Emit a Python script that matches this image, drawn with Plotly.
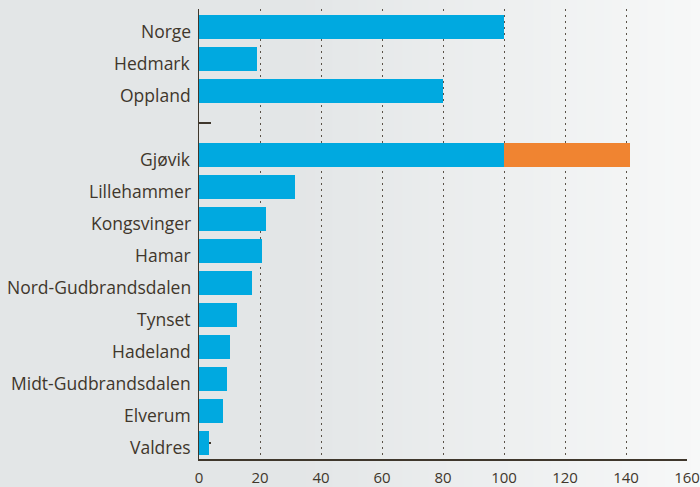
import plotly.graph_objects as go

categories = ["Norge", "Hedmark", "Oppland", " ", "Gjøvik", "Lillehammer", "Kongsvinger",
              "Hamar", "Nord-Gudbrandsdalen", "Tynset", "Hadeland", "Midt-Gudbrandsdalen",
              "Elverum", "Valdres"]
base_values = [100, 19, 80, None, 100, 31.6, 22, 20.8, 17.5, 12.4, 10.3, 9.3, 8, 3.4]
extra_values = [None, None, None, None, 41.3, None, None, None, None, None, None, None, None, None]
x_ticks = [0, 20, 40, 60, 80, 100, 120, 140, 160]

BLUE = "#00a9e0"
ORANGE = "#f08431"
TEXT = "#3f372c"
AXIS = "#3f372c"

fig = go.Figure()
fig.add_trace(go.Bar(y=categories, x=base_values, orientation="h",
                     marker=dict(color=BLUE, line=dict(width=0)), showlegend=False,
                     hoverinfo="skip"))
fig.add_trace(go.Bar(y=categories, x=extra_values, orientation="h",
                     marker=dict(color=ORANGE, line=dict(width=0)), showlegend=False,
                     hoverinfo="skip"))

W, H = 700, 487
ml, mr, mt, mb = 199, 13, 9, 28
pw = W - ml - mr

# background gradient strips (full figure, paper coords)
shapes = []
n = 80
c0 = (0xe3, 0xe6, 0xe7)
c1 = (0xf7, 0xf8, 0xf8)
for i in range(n):
    px0 = W * i / n
    px1 = W * (i + 1) / n + 0.8
    mid = (px0 + px1) / 2
    t = min(1.0, max(0.0, (mid - 300) / (700 - 300)))
    col = tuple(round(a + (b - a) * t) for a, b in zip(c0, c1))
    shapes.append(dict(type="rect", xref="paper", yref="paper",
                       x0=(px0 - ml) / pw, x1=(px1 - ml) / pw,
                       y0=-mb / (H - mt - mb), y1=1 + mt / (H - mt - mb),
                       fillcolor="rgb(%d,%d,%d)" % col, line=dict(width=0), layer="below"))

# category labels as annotations (slightly lowered, like the reference)
annotations = [dict(x=0, y=c, xref="x", yref="y", text=c, showarrow=False,
                    xanchor="right", yanchor="middle", xshift=-6, yshift=-4,
                    font=dict(size=17.5, color=TEXT))
               for c in categories if c.strip()]

fig.update_layout(
    width=W, height=H,
    margin=dict(l=ml, r=mr, t=mt, b=mb, autoexpand=False),
    barmode="stack",
    bargap=0.28,
    paper_bgcolor="rgb(227,230,231)",
    plot_bgcolor="rgba(0,0,0,0)",
    font=dict(family="Open Sans, sans-serif", size=15, color=TEXT),
    shapes=shapes,
    annotations=annotations,
    hovermode=False,
    xaxis=dict(range=[0, 160], tickvals=x_ticks, showgrid=True, gridcolor="#5a5248",
               griddash="2px,4px", gridwidth=1, zeroline=False, showline=True,
               linecolor=AXIS, linewidth=1.5, ticks="", tickfont=dict(size=15, color=TEXT),
               ticklabelstandoff=4, automargin=False, fixedrange=True),
    yaxis=dict(categoryorder="array", categoryarray=categories, autorange="reversed",
               showgrid=False, zeroline=False, showline=True, linecolor=AXIS, linewidth=1.5,
               ticks="inside", ticklen=12, tickcolor=AXIS, tickwidth=1.5,
               layer="below traces", showticklabels=False,
               automargin=False, fixedrange=True),
)

fig.write_html("out.html", config={"displayModeBar": False, "staticPlot": True},
               post_script="document.body.style.margin='0';document.body.style.padding='0';"
                           "document.body.style.overflow='hidden';")
